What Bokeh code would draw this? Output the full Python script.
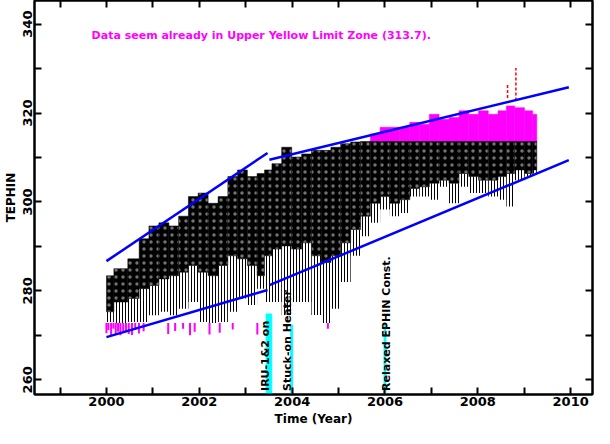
import numpy as np
from bokeh.plotting import figure
from bokeh.models import Range1d, LinearAxis, FixedTicker, Label
from bokeh.core.properties import value
from bokeh.embed import file_html
from bokeh.resources import INLINE

# ---- data ----
years = [2000.0, 2000.32, 2000.6, 2000.81, 2001.02, 2001.24, 2001.45, 2001.66, 2001.87,
         2002.08, 2002.3, 2002.51, 2002.72, 2002.93, 2003.14, 2003.35, 2003.46, 2003.67,
         2003.88, 2004.1, 2004.31, 2004.52, 2004.73, 2004.94, 2005.15, 2005.37, 2005.58,
         2005.79, 2006.0, 2006.21, 2006.43, 2006.64, 2006.85, 2007.06, 2007.27, 2007.49,
         2007.7, 2007.91, 2008.12, 2008.33, 2008.54, 2008.69, 2008.9, 2009.11, 2009.25]
upper = [283.4, 285.0, 287.2, 291.7, 294.6, 295.3, 294.6, 296.8, 301.2,
         302.0, 299.7, 301.2, 305.7, 307.2, 305.7, 306.4, 307.2, 308.6,
         312.3, 310.1, 310.8, 311.6, 311.6, 312.3, 313.1, 313.5, 313.6,
         315.3, 316.8, 316.8, 316.8, 317.9, 317.5, 319.7, 318.6, 319.0,
         320.5, 319.7, 320.5, 319.7, 320.5, 321.6, 321.2, 320.5, 319.7]
core_low = [275.3, 277.5, 278.3, 280.5, 281.2, 282.7, 283.4, 284.2, 285.7,
            284.2, 283.4, 285.7, 287.9, 287.2, 285.7, 283.4, 287.9, 289.4,
            290.1, 289.4, 290.8, 287.9, 286.4, 287.9, 290.8, 293.8, 296.8,
            299.7, 301.2, 299.7, 300.5, 303.0, 303.4, 304.2, 304.9, 304.2,
            306.4, 305.7, 304.9, 304.9, 305.7, 306.4, 307.2, 306.4, 307.2]
spike_low = [273.0, 272.8, 273.0, 273.0, 274.5, 275.3, 274.5, 276.0, 277.5,
             273.0, 272.8, 273.0, 275.3, 278.3, 276.8, 280.5, 277.5, 277.5,
             274.6, 277.5, 277.5, 274.6, 272.8, 276.0, 282.0, 287.9, 292.3,
             295.3, 298.3, 296.8, 297.5, 301.2, 301.2, 300.5, 303.4, 299.7,
             303.4, 302.0, 302.0, 301.2, 300.5, 299.0, 304.9, 305.7, 306.4]

upper_yellow = 313.7
lower_yellow = 272.8

low_mag_years = [2000.0, 2000.04, 2000.1, 2000.15, 2000.2, 2000.25, 2000.3, 2000.36,
                 2000.42, 2000.48, 2000.55, 2000.62, 2000.7, 2000.8, 2001.33, 2001.48,
                 2001.65, 2001.8, 2001.9, 2002.22, 2002.44, 2002.72, 2003.25, 2004.77]
low_mag_vals = [270.5, 271.2, 270.0, 271.5, 270.2, 270.8, 270.0, 270.6,
                271.0, 270.3, 270.1, 271.3, 270.4, 270.9, 270.3, 271.0,
                271.5, 270.0, 270.8, 270.2, 270.6, 271.3, 270.2, 271.5]

red_years = [2008.64, 2008.82]
red_low = [323.4, 322.8]
red_high = [326.5, 330.1]

lim_x_early = [2000.0, 2003.47]
lim_up_early = [286.7, 311.0]
lim_low_early = [269.6, 280.2]
lim_x_late = [2003.51, 2009.96]
lim_up_late = [309.5, 325.8]
lim_low_late = [281.3, 309.4]

event_years = [2003.5, 2003.99, 2006.0]
event_tops = [274.8, 272.3, 272.3]
event_text_x = [2003.43, 2003.91, 2006.04]
event_labels = ["IRU-1&2 on", "Stuck-on Heater", "Relaxed EPHIN Const."]

x_ticks = list(range(1999, 2011))
x_tick_labels = {1999: "", 2000: "2000", 2001: "", 2002: "2002", 2003: "", 2004: "2004",
                 2005: "", 2006: "2006", 2007: "", 2008: "2008", 2009: "", 2010: "2010"}
y_ticks = list(range(260, 350, 10))
y_tick_labels = {260: "260", 270: "", 280: "280", 290: "", 300: "300", 310: "",
                 320: "320", 330: "", 340: "340"}

note_text = "Data seem already in Upper Yellow  Limit Zone (313.7)."

# ---- figure ----
FONT = "DejaVu Sans"
XMIN, XMAX, YMIN, YMAX = 1998.45, 2010.47, 256.7, 345.3

p = figure(width=594, height=428, output_backend="svg", toolbar_location=None,
           x_range=Range1d(XMIN, XMAX), y_range=Range1d(YMIN, YMAX),
           min_border_left=29, min_border_right=2, min_border_top=0, min_border_bottom=30,
           x_axis_label="Time (Year)", y_axis_label="TEPHIN")
p.grid.visible = False
p.outline_line_color = "black"
p.outline_line_width = 2
p.background_fill_color = "white"
p.border_fill_color = "white"

bottom_axis = p.below[0]
left_axis = p.left[0]
bottom_axis.ticker = FixedTicker(ticks=x_ticks)
bottom_axis.major_label_overrides = x_tick_labels
left_axis.ticker = FixedTicker(ticks=y_ticks)
left_axis.major_label_overrides = y_tick_labels
left_axis.major_label_orientation = "parallel"

top_axis = LinearAxis(ticker=FixedTicker(ticks=x_ticks),
                      major_label_overrides={t: "" for t in x_ticks},
                      major_label_standoff=0, major_label_text_font_size="1px")
right_axis = LinearAxis(ticker=FixedTicker(ticks=y_ticks),
                        major_label_overrides={t: "" for t in y_ticks},
                        major_label_standoff=0, major_label_text_font_size="1px")
p.add_layout(top_axis, "above")
p.add_layout(right_axis, "right")

for ax in [bottom_axis, left_axis, top_axis, right_axis]:
    ax.axis_line_width = 2
    ax.axis_line_color = "black"
    ax.major_tick_in = 7
    ax.major_tick_out = 0
    ax.major_tick_line_width = 2
    ax.minor_tick_line_color = None
for ax in [bottom_axis, left_axis]:
    ax.major_label_text_font = FONT
    ax.major_label_text_font_style = "bold"
    ax.major_label_text_color = "black"
    ax.major_label_text_font_size = "13px"
    ax.major_label_standoff = 2
    ax.axis_label_text_font = FONT
    ax.axis_label_text_font_style = "bold"
    ax.axis_label_text_font_size = "12px"
    ax.axis_label_text_color = "black"
    ax.axis_label_standoff = 3

# ---- data marks ----
yrs = np.array(years)
mid = (yrs[:-1] + yrs[1:]) / 2
left = np.concatenate([[yrs[0]], mid])
right = np.concatenate([mid, [yrs[-1] + 0.02]])
up = np.array(upper)
cl = np.array(core_low)
sl = np.array(spike_low)
over = up > upper_yellow

p.quad(left=left, right=right, bottom=sl, top=cl, fill_alpha=0, line_alpha=0,
       hatch_pattern="vertical_line", hatch_color="black", hatch_scale=3, hatch_weight=1)
p.quad(left=left, right=right, bottom=cl, top=np.minimum(up, upper_yellow),
       fill_color="black", line_color="black", line_width=0.5,
       hatch_pattern="dot", hatch_color="white", hatch_scale=7, hatch_weight=1,
       hatch_alpha=0.45)
p.quad(left=left[over], right=right[over], bottom=upper_yellow, top=up[over],
       fill_color="#ff00ff", line_color="#ff00ff", line_width=0.5)
p.segment(x0=low_mag_years, x1=low_mag_years, y0=[lower_yellow] * len(low_mag_years),
          y1=low_mag_vals, line_color="#ff00ff", line_width=2)
p.segment(x0=red_years, x1=red_years, y0=red_low, y1=red_high,
          line_color="red", line_width=1.5, line_dash="3 2")

for xs, ys in [(lim_x_early, lim_up_early), (lim_x_early, lim_low_early),
               (lim_x_late, lim_up_late), (lim_x_late, lim_low_late)]:
    p.line(xs, ys, line_color="#0000ff", line_width=2.5)

p.vbar(x=event_years, width=[0.12, 0.04, 0.04], bottom=YMIN, top=event_tops,
       fill_color="cyan", line_color="cyan")
p.text(x=event_text_x, y=[YMIN + 0.8] * 3, text=event_labels, angle=np.pi / 2,
       text_align="left", text_baseline="middle", text_font=value(FONT),
       text_font_size="11px", text_font_style="bold", text_color="black")

p.add_layout(Label(x=1999.68, y=337.4, text=note_text, text_color="#ff00ff",
                   text_font=FONT, text_font_size="11px", text_font_style="bold",
                   text_baseline="middle"))

open("out.html", "w").write(file_html(p, INLINE))
